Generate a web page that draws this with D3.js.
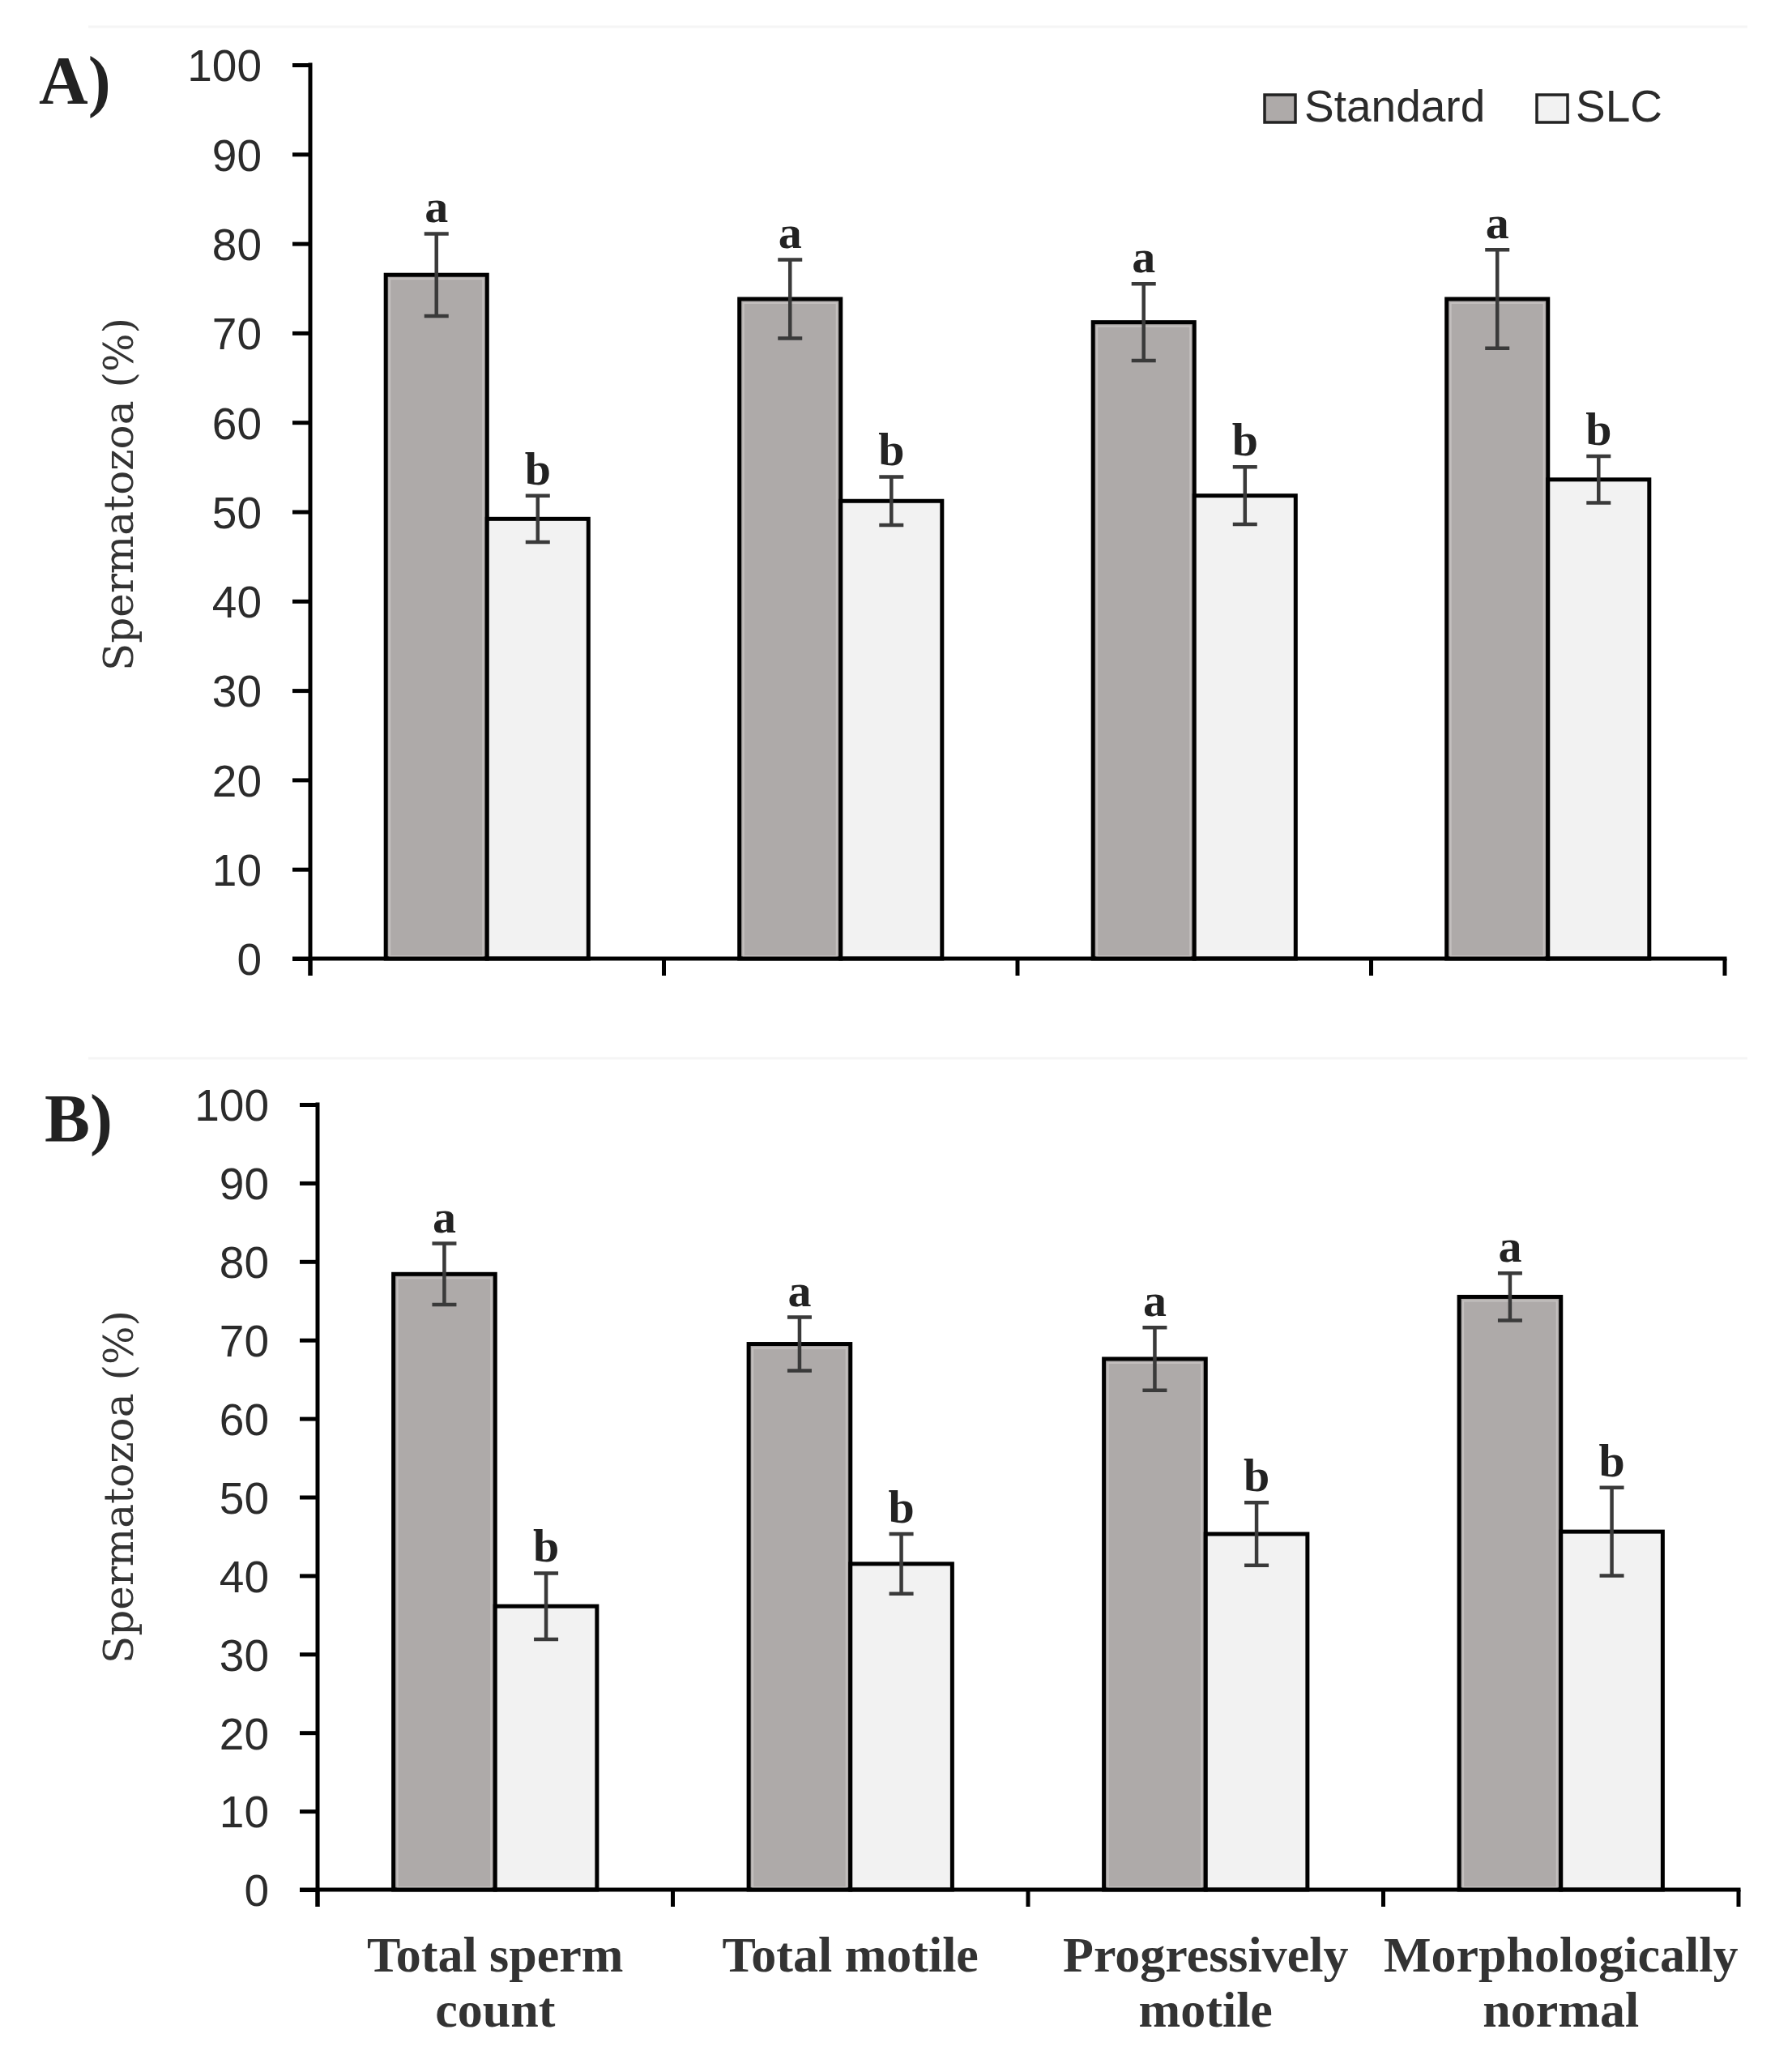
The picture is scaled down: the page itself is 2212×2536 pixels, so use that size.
<!DOCTYPE html>
<html>
<head>
<meta charset="utf-8">
<script src="https://cdn.jsdelivr.net/npm/d3@7"></script>
<style>
  html, body { margin: 0; padding: 0; background: #ffffff; }
  svg { display: block; }
</style>
</head>
<body>
<svg id="chart" width="2212" height="2536"></svg>
<script>
// ---------------- DATA ----------------
const categories = ["Total sperm count", "Total motile", "Progressively motile", "Morphologically normal"];
const categoryLines = [["Total sperm", "count"], ["Total motile"], ["Progressively", "motile"], ["Morphologically", "normal"]];
const seriesNames = ["Standard", "SLC"];
const yTicks = [0, 10, 20, 30, 40, 50, 60, 70, 80, 90, 100];

// Panel A
const aStandard    = [76.5, 73.8, 71.2, 73.8];
const aStandardErr = [4.6, 4.4, 4.3, 5.5];
const aSLC         = [49.2, 51.2, 51.8, 53.6];
const aSLCErr      = [2.6, 2.7, 3.2, 2.6];
const aLetters     = [["a", "b"], ["a", "b"], ["a", "b"], ["a", "b"]];

// Panel B
const bStandard    = [78.4, 69.5, 67.6, 75.5];
const bStandardErr = [3.9, 3.4, 4.0, 3.0];
const bSLC         = [36.1, 41.5, 45.3, 45.6];
const bSLCErr      = [4.2, 3.8, 4.0, 5.6];
const bLetters     = [["a", "b"], ["a", "b"], ["a", "b"], ["a", "b"]];

const yTitle = "Spermatozoa (%)";

// ---------------- STYLE ----------------
const colors = { Standard: "#aeaaa9", SLC: "#f2f2f2" };
const inkText = "#2b2b2b";
const sansFont = "'Liberation Sans', Arial, sans-serif";
const serifFont = "'Liberation Serif', 'Times New Roman', serif";
const titleFont = "'DejaVu Serif', serif";

const svg = d3.select("#chart");
svg.append("rect").attr("width", 2212).attr("height", 2536).attr("fill", "#fff");

// faint panel separators present in the original image
svg.append("line").attr("x1", 109).attr("x2", 2157).attr("y1", 33).attr("y2", 33)
  .attr("stroke", "#f5f5f5").attr("stroke-width", 3);
svg.append("line").attr("x1", 109).attr("x2", 2157).attr("y1", 1306).attr("y2", 1306)
  .attr("stroke", "#f5f5f5").attr("stroke-width", 3);

function drawPanel(cfg) {
  const g = svg.append("g");
  const x = d3.scaleBand().domain(categories)
    .range([cfg.x0, cfg.x1]).paddingInner(0.427).paddingOuter(0.2135);
  const xs = d3.scaleBand().domain(seriesNames).range([0, x.bandwidth()]).padding(0);
  const y = d3.scaleLinear().domain([0, 100]).range([cfg.yBottom, cfg.yTop]);

  // Y axis
  const yAxis = d3.axisLeft(y).tickValues(yTicks).tickSize(22).tickPadding(38)
    .tickFormat(d3.format("d"));
  const ya = g.append("g").attr("transform", `translate(${cfg.x0},0)`).call(yAxis);
  ya.select(".domain").remove();
  ya.selectAll(".tick line").attr("stroke", "#000").attr("stroke-width", 5);
  ya.selectAll(".tick text").attr("fill", inkText)
    .style("font-family", sansFont).style("font-size", "55px").attr("dy", "0.36em");
  g.append("line").attr("x1", cfg.x0).attr("x2", cfg.x0)
    .attr("y1", y(100) - 2.5).attr("y2", cfg.yBottom + 21)
    .attr("stroke", "#000").attr("stroke-width", 5);

  const rows = categories.map((c, i) => ({
    cat: c, i,
    vals: [
      { s: "Standard", v: cfg.std[i], e: cfg.stdErr[i], l: cfg.letters[i][0] },
      { s: "SLC", v: cfg.slc[i], e: cfg.slcErr[i], l: cfg.letters[i][1] }
    ]
  }));

  const grp = g.selectAll("g.cat").data(rows).join("g")
    .attr("class", "cat").attr("transform", d => `translate(${x(d.cat)},0)`);

  // bars
  grp.selectAll("rect.bar").data(d => d.vals).join("rect")
    .attr("class", "bar")
    .attr("x", d => xs(d.s))
    .attr("width", xs.bandwidth())
    .attr("y", d => y(d.v))
    .attr("height", d => y(0) - y(d.v))
    .attr("fill", d => colors[d.s])
    .attr("stroke", "#000").attr("stroke-width", 5);

  // subtle inner highlight on the standard bars
  grp.selectAll("rect.hl").data(d => d.vals.filter(v => v.s === "Standard")).join("rect")
    .attr("class", "hl")
    .attr("x", d => xs(d.s) + 5)
    .attr("width", xs.bandwidth() - 10)
    .attr("y", d => y(d.v) + 5)
    .attr("height", d => y(0) - y(d.v) - 8)
    .attr("fill", "none")
    .attr("stroke", "#c4c0bf").attr("stroke-width", 2);

  // error bars
  const cap = 15;
  grp.selectAll("path.err").data(d => d.vals).join("path")
    .attr("class", "err")
    .attr("d", d => {
      const cx = xs(d.s) + xs.bandwidth() / 2;
      const t = y(d.v + d.e), b = y(d.v - d.e);
      return `M${cx - cap},${t}H${cx + cap}M${cx},${t}V${b}M${cx - cap},${b}H${cx + cap}`;
    })
    .attr("fill", "none").attr("stroke", "#3a3a3a").attr("stroke-width", 4.5);

  // significance letters
  grp.selectAll("text.sig").data(d => d.vals).join("text")
    .attr("class", "sig")
    .attr("x", d => xs(d.s) + xs.bandwidth() / 2)
    .attr("y", d => y(d.v + d.e) - 14)
    .attr("text-anchor", "middle")
    .attr("fill", "#222")
    .style("font-family", serifFont).style("font-weight", "bold").style("font-size", "58px")
    .text(d => d.l);

  // X axis line and boundary ticks
  g.append("line").attr("x1", cfg.x0 - 22).attr("x2", cfg.x1 + 2.5)
    .attr("y1", cfg.yBottom).attr("y2", cfg.yBottom)
    .attr("stroke", "#000").attr("stroke-width", 5);
  const bounds = categories.map(c => x(c) - x.step() * x.paddingInner() / 2).concat([cfg.x1]);
  g.selectAll("line.xt").data(bounds).join("line")
    .attr("class", "xt")
    .attr("x1", d => d).attr("x2", d => d)
    .attr("y1", cfg.yBottom).attr("y2", cfg.yBottom + 21)
    .attr("stroke", "#000").attr("stroke-width", 5);

  // category labels
  if (cfg.showCats) {
    const lab = g.selectAll("text.cat").data(rows).join("text")
      .attr("class", "cat")
      .attr("text-anchor", "middle")
      .attr("fill", "#333")
      .style("font-family", serifFont).style("font-weight", "bold").style("font-size", "62px");
    lab.selectAll("tspan").data(d => categoryLines[d.i].map(t => ({ t, cx: x(d.cat) + x.bandwidth() / 2 })))
      .join("tspan")
      .attr("x", d => d.cx)
      .attr("y", (d, j) => cfg.yBottom + 101 + j * 68)
      .text(d => d.t);
  }

  // y title
  g.append("text")
    .attr("transform", `translate(164,${cfg.titleY}) rotate(-90)`)
    .attr("text-anchor", "middle")
    .attr("fill", "#333")
    .style("font-family", titleFont).style("font-size", "50px")
    .text(yTitle);

  // panel letter
  g.append("text").attr("x", cfg.labelX).attr("y", cfg.labelY)
    .attr("fill", "#222")
    .style("font-family", serifFont).style("font-weight", "bold").style("font-size", "84px")
    .text(cfg.label);
}

drawPanel({
  label: "A)", labelX: 48, labelY: 128,
  x0: 383, x1: 2129, yTop: 80, yBottom: 1183, titleY: 610,
  std: aStandard, stdErr: aStandardErr, slc: aSLC, slcErr: aSLCErr, letters: aLetters,
  showCats: false
});

drawPanel({
  label: "B)", labelX: 55, labelY: 1409,
  x0: 392, x1: 2146, yTop: 1363, yBottom: 2332, titleY: 1835,
  std: bStandard, stdErr: bStandardErr, slc: bSLC, slcErr: bSLCErr, letters: bLetters,
  showCats: true
});

// legend (panel A)
const legendItems = [
  { name: "Standard", x: 1561, textX: 1610 },
  { name: "SLC", x: 1897, textX: 1945 }
];
const leg = svg.append("g").selectAll("g").data(legendItems).join("g");
leg.append("rect")
  .attr("x", d => d.x).attr("y", 117).attr("width", 38).attr("height", 34)
  .attr("fill", d => colors[d.name]).attr("stroke", "#222").attr("stroke-width", 3.5);
leg.append("text")
  .attr("x", d => d.textX).attr("y", 150)
  .attr("fill", "#2b2b2b")
  .style("font-family", sansFont).style("font-size", "55px")
  .text(d => d.name);
</script>
</body>
</html>
